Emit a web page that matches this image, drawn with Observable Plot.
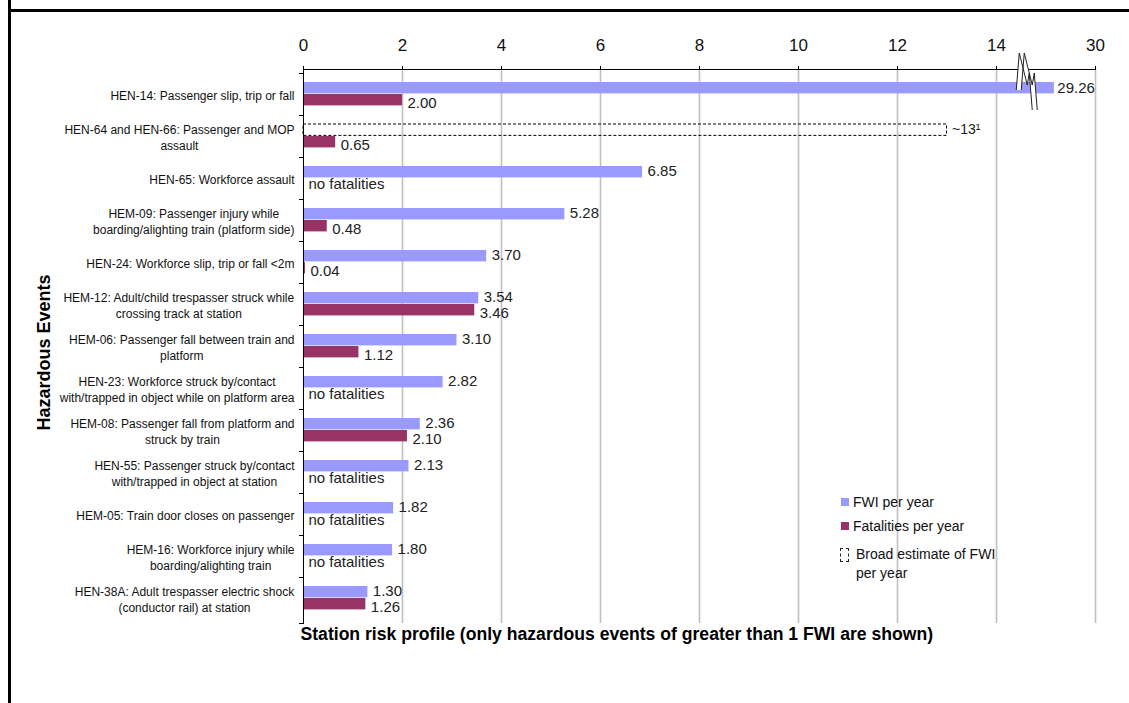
<!DOCTYPE html>
<html>
<head>
<meta charset="utf-8">
<script src="https://cdn.jsdelivr.net/npm/d3@7"></script>
<script src="https://cdn.jsdelivr.net/npm/@observablehq/plot@0.6"></script>
<style>
  body { margin: 0; background: #fff; font-family: "Liberation Sans", Arial, sans-serif; }
  #wrap { position: relative; width: 1129px; height: 703px; overflow: hidden; background: #fff; }
  #wrap svg { position: absolute; left: 0; top: 0; }
  .rule { position: absolute; background: #000; }
  .leg { position: absolute; font-size: 14px; color: #111; line-height: 16px; white-space: nowrap; }
  .sw { position: absolute; width: 8px; height: 8px; }
</style>
</head>
<body>
<div id="wrap"></div>
<script>
// ---------------- data ----------------
const categories = [
  "HEN-14: Passenger slip, trip or fall",
  "HEN-64 and HEN-66: Passenger and MOP\nassault",
  "HEN-65: Workforce assault",
  "HEM-09: Passenger injury while\nboarding/alighting train (platform side)",
  "HEN-24: Workforce slip, trip or fall <2m",
  "HEM-12: Adult/child trespasser struck while\ncrossing track at station",
  "HEM-06: Passenger fall between train and\nplatform",
  "HEN-23: Workforce struck by/contact\nwith/trapped in object while on platform area",
  "HEM-08: Passenger fall from platform and\nstruck by train",
  "HEN-55: Passenger struck by/contact\nwith/trapped in object at station",
  "HEM-05: Train door closes on passenger",
  "HEM-16: Workforce injury while\nboarding/alighting train",
  "HEN-38A: Adult trespasser electric shock\n(conductor rail) at station"
];
const fwiPerYear        = [29.26, null, 6.85, 5.28, 3.70, 3.54, 3.10, 2.82, 2.36, 2.13, 1.82, 1.80, 1.30];
const fatalitiesPerYear = [2.00, 0.65, null, 0.48, 0.04, 3.46, 1.12, null, 2.10, null, null, null, 1.26];
const broadEstimateFWI  = [null, 13, null, null, null, null, null, null, null, null, null, null, null];
const broadEstimateText = "~13\u00B9";
const noFatalitiesText  = "no fatalities";
const xTicks = [0, 2, 4, 6, 8, 10, 12, 14, 30];
const axisBreak = [14, 30];
const xTitle = "Station risk profile (only hazardous events of greater than 1 FWI are shown)";
const yTitle = "Hazardous Events";
const legendLabels = ["FWI per year", "Fatalities per year", "Broad estimate of FWI", "per year"];

// ---------------- styling / layout ----------------
const FWI_COLOR = "#9999ff", FAT_COLOR = "#993366";
const FONT = "Liberation Sans, Arial, sans-serif";
const W = 1129, H = 703;
const mL = 303, mR = 34, mT = 69, mB = 80;
const unit = (W - mR - mL) / 16;                 // 14 units + compressed break segment
const xRange = [mL, mL + 14 * unit, W - mR];
const step = (H - mT - mB) / categories.length;

const fwiRows = categories.map((c, i) => ({category: c, value: fwiPerYear[i]})).filter(d => d.value != null);
const fwiNormal = fwiRows.filter(d => d.value <= axisBreak[0]);
const fwiBroken = fwiRows.filter(d => d.value > axisBreak[0]);
const fatRows = categories.map((c, i) => ({category: c, value: fatalitiesPerYear[i]})).filter(d => d.value != null);
const noFatRows = categories.filter((c, i) => fatalitiesPerYear[i] == null);
const estRows = categories.map((c, i) => ({category: c, value: broadEstimateFWI[i]})).filter(d => d.value != null);

const canvas = document.createElement("canvas");
const ctx = canvas.getContext("2d");
function textW(s, font) { ctx.font = font; return ctx.measureText(s).width; }

const blueTop = 9, blueBot = 21, redBot = 33;
const VAL_FS = 15;

// category label marks (centered lines, block right-aligned to axis)
const catMarks = categories.map(c => {
  const w = Math.max(...c.split("\n").map(l => textW(l, `12px ${FONT}`)));
  return Plot.text([c], {
    y: d => d, text: d => d, frameAnchor: "left", textAnchor: "middle",
    dx: -9 - w / 2, fontSize: 12, lineHeight: 1.38, fill: "#111"
  });
});

// decorations: axis lines, category ticks, label background beyond break, break symbol
function decorations(index, scales, values, dims) {
  const {x, y} = scales;
  const g = d3.create("svg:g");
  const top = dims.marginTop, bottom = dims.height - dims.marginBottom;
  const x0 = x(0), xEnd = x(xTicks[xTicks.length - 1]);
  g.append("line").attr("x1", x0).attr("x2", xEnd).attr("y1", top + 0.5).attr("y2", top + 0.5).attr("stroke", "#000");
  g.append("line").attr("x1", x0 + 0.5).attr("x2", x0 + 0.5).attr("y1", top).attr("y2", bottom + 1).attr("stroke", "#000");
  const bounds = categories.map(c => y(c)).concat([bottom]);
  for (const b of bounds) {
    g.append("line").attr("x1", x0 - 4).attr("x2", x0).attr("y1", Math.round(b) + 0.5).attr("y2", Math.round(b) + 0.5).attr("stroke", "#000");
  }
  // white backing behind labels of bars that run past the break
  for (const d of fwiBroken) {
    const xv = x(d.value);
    const tw = textW(d.value.toFixed(2), `${VAL_FS}px ${FONT}`);
    g.append("rect").attr("x", xv + 4 - tw - 3).attr("width", tw + 3)
      .attr("y", y(d.category) + blueTop - 1).attr("height", blueBot - blueTop + 2).attr("fill", "#fff");
  }
  // break symbol
  const bx = x(axisBreak[0]) + (x(axisBreak[1]) - x(axisBreak[0])) * 0.24;
  const pts = [[-1, 21], [2, -16], [10, 16], [12, 4], [15, 41]].map(([a, b]) => [bx + a, top + b]);
  const off = 2.5;
  const poly = pts.map(p => [p[0] - off, p[1]]).concat(pts.slice().reverse().map(p => [p[0] + off, p[1]]));
  g.append("polygon").attr("points", poly.map(p => p.join(",")).join(" ")).attr("fill", "#fff");
  for (const s of [-off, off]) {
    g.append("polyline").attr("points", pts.map(p => [p[0] + s, p[1]].join(",")).join(" "))
      .attr("fill", "none").attr("stroke", "#222").attr("stroke-width", 1);
  }
  return g.node();
}

const chart = Plot.plot({
  width: W, height: H,
  marginLeft: mL, marginRight: mR, marginTop: mT, marginBottom: mB,
  style: {fontFamily: FONT, background: "#fff", overflow: "visible", color: "#111"},
  x: {type: "linear", domain: [0, axisBreak[0], axisBreak[1]], range: xRange},
  y: {type: "band", domain: categories, padding: 0, axis: null},
  marks: [
    Plot.gridX({ticks: xTicks.filter(t => t > 0), stroke: "#c0c0c0", strokeOpacity: 1, strokeWidth: 1.6}),
    Plot.axisX({anchor: "top", ticks: xTicks, tickSize: 4, tickPadding: 15, fontSize: 17, tickFormat: d => String(d), label: null, stroke: "#000"}),
    Plot.barX(fwiRows, {x: "value", y: "category", fill: FWI_COLOR, insetTop: blueTop, insetBottom: step - blueBot}),
    Plot.barX(fatRows, {x: "value", y: "category", fill: FAT_COLOR, insetTop: blueBot, insetBottom: step - redBot}),
    Plot.barX(estRows, {x: "value", y: "category", fill: "none", stroke: "#000", strokeWidth: 1, strokeDasharray: "3,2", insetTop: blueTop, insetBottom: step - blueBot}),
    decorations,
    Plot.text(fwiNormal, {x: "value", y: "category", text: d => d.value.toFixed(2), dx: 5, dy: -7, textAnchor: "start", fontSize: VAL_FS, fill: "#222"}),
    Plot.text(fwiBroken, {x: "value", y: "category", text: d => d.value.toFixed(2), dx: 4, dy: -6, textAnchor: "end", fontSize: VAL_FS, fill: "#222"}),
    Plot.text(fatRows, {x: "value", y: "category", text: d => d.value.toFixed(2), dx: 5, dy: 9, textAnchor: "start", fontSize: VAL_FS, fill: "#222"}),
    Plot.text(noFatRows, {x: () => 0, y: d => d, text: () => noFatalitiesText, dx: 5, dy: 5.5, textAnchor: "start", fontSize: VAL_FS, fill: "#222"}),
    Plot.text(estRows, {x: "value", y: "category", text: () => broadEstimateText, dx: 5, dy: -6.5, textAnchor: "start", fontSize: 14, fill: "#222"}),
    ...catMarks,
    Plot.text([xTitle], {text: d => d, frameAnchor: "bottom-left", textAnchor: "start", dx: -3, dy: 16, fontSize: 17.6, fontWeight: "bold", fill: "#000"}),
    Plot.text([yTitle], {text: d => d, frameAnchor: "left", textAnchor: "middle", rotate: -90, dx: -(mL - 44), dy: 6, fontSize: 18, fontWeight: "bold", fill: "#000"})
  ]
});

const wrap = document.getElementById("wrap");
wrap.appendChild(chart);

// page frame rules
function rule(l, t, w, h) { const d = document.createElement("div"); d.className = "rule"; Object.assign(d.style, {left: l + "px", top: t + "px", width: w + "px", height: h + "px"}); wrap.appendChild(d); }
rule(8, 0, 3, H);
rule(8, 9, W - 8, 3);

// legend
function el(cls, css, html) { const d = document.createElement("div"); d.className = cls; Object.assign(d.style, css); if (html != null) d.textContent = html; wrap.appendChild(d); return d; }
el("sw", {left: "841px", top: "498px", background: FWI_COLOR});
el("leg", {left: "853px", top: "494px"}, legendLabels[0]);
el("sw", {left: "841px", top: "522px", background: FAT_COLOR});
el("leg", {left: "853px", top: "518px"}, legendLabels[1]);
el("sw", {left: "840px", top: "548px", width: "9px", height: "14px", background: "none", border: "1px dashed #222", boxSizing: "border-box"});
el("leg", {left: "856px", top: "546px"}, legendLabels[2]);
el("leg", {left: "856px", top: "565px"}, legendLabels[3]);
</script>
</body>
</html>
